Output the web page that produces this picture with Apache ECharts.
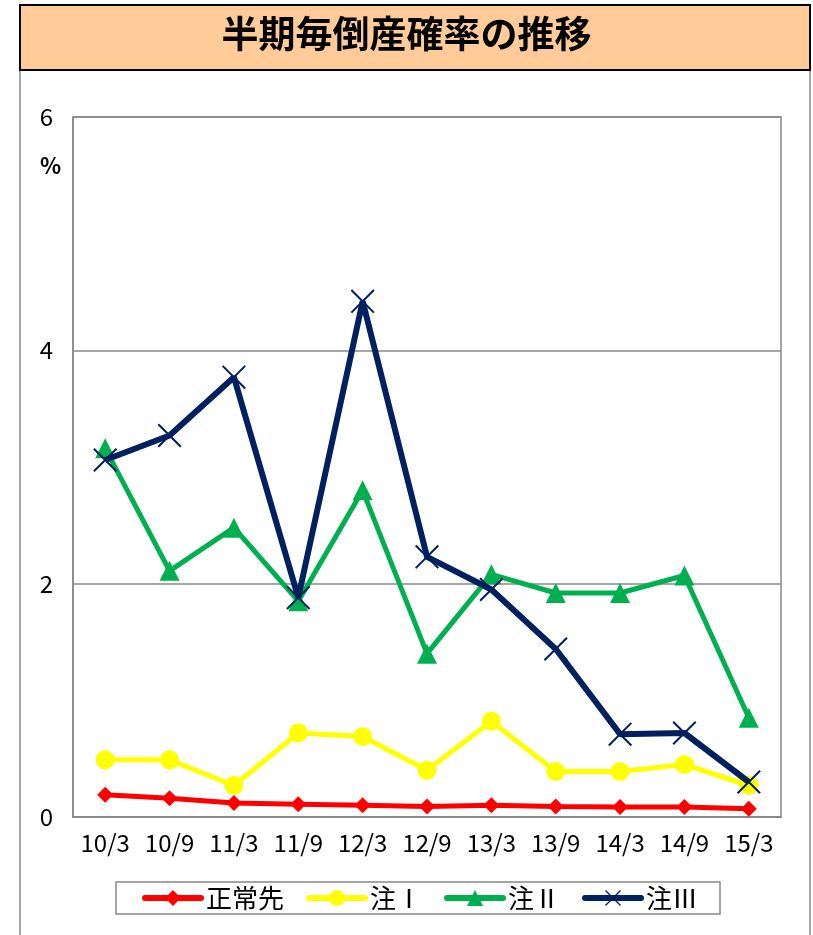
<!DOCTYPE html>
<html><head><meta charset="utf-8">
<script src="https://cdn.jsdelivr.net/npm/echarts@6/dist/echarts.min.js"></script>
<style>html,body{margin:0;padding:0;background:#fff}#c{width:813px;height:935px}</style>
</head><body><div id="c"></div>
<script>
const categories = ['10/3','10/9','11/3','11/9','12/3','12/9','13/3','13/9','14/3','14/9','15/3'];
const seriesNames = ['正常先','注Ⅰ','注Ⅱ','注Ⅲ'];
const seiJou = [0.19,0.16,0.12,0.11,0.10,0.09,0.10,0.09,0.085,0.085,0.07];
const chuu1 = [0.49,0.49,0.27,0.72,0.69,0.40,0.82,0.39,0.39,0.45,0.27];
const chuu2 = [3.16,2.11,2.48,1.85,2.80,1.40,2.08,1.92,1.92,2.07,0.85];
const chuu3 = [3.06,3.27,3.77,1.88,4.42,2.23,1.95,1.44,0.71,0.72,0.30];
const yTicks = [0,2,4,6];
const titleText = '半期毎倒産確率の推移';

const font = '"Noto Sans CJK JP", "Noto Sans", sans-serif';
const crossPath = 'path://M0,0.6L0.6,0L10,9.4L9.4,10Z M9.4,0L10,0.6L0.6,10L0,9.4Z';

const chart = echarts.init(document.getElementById('c'));
chart.setOption({
  animation: false,
  textStyle: {fontFamily: font},
  graphic: [
    {type:'rect', shape:{x:20,y:5,width:790,height:940}, style:{fill:'none', stroke:'#888', lineWidth:1.5}, z:-10},
    {type:'rect', shape:{x:20,y:5,width:790,height:65}, style:{fill:'#FFCC99', stroke:'#000', lineWidth:2}, z:-5},
    {type:'text', left:'center', top:15, style:{text:titleText, font:'bold 37px ' + font, fill:'#000'}},
    {type:'text', left:40, top:155, style:{text:'%', font:'bold 22px ' + font, fill:'#000'}}
  ],
  grid: {left:73, right:32, top:117, bottom:118, show:true, borderColor:'#888', borderWidth:1.5},
  legend: {
    data: seriesNames, top: 882, left: 116,
    borderColor:'#888', borderWidth:1.5, padding:[3,22,3,26], itemGap:22,
    itemWidth:56, itemHeight:20,
    lineStyle:{width:6, cap:'round'},
    textStyle:{fontSize:26, fontFamily:font, color:'#000'}
  },
  xAxis: {
    type:'category', data:categories, boundaryGap:true,
    axisLine:{lineStyle:{color:'#888', width:1.5}}, axisTick:{show:false},
    axisLabel:{fontSize:24, color:'#000', margin:14, fontFamily:font}
  },
  yAxis: {
    type:'value', min:0, max:6, interval:2,
    axisLine:{show:true, lineStyle:{color:'#888', width:1.5}}, axisTick:{show:false},
    splitLine:{lineStyle:{color:'#888', width:1.5}},
    axisLabel:{fontSize:24, color:'#000', margin:20, fontFamily:font,
      formatter: v => yTicks.includes(v) ? String(v) : ''}
  },
  series: [
    {name:seriesNames[0], type:'line', data:seiJou, symbol:'diamond', symbolSize:16,
     lineStyle:{color:'#FF0000', width:5}, itemStyle:{color:'#FF0000'}, z:2},
    {name:seriesNames[1], type:'line', data:chuu1, symbol:'circle', symbolSize:19,
     lineStyle:{color:'#FFFF00', width:5}, itemStyle:{color:'#FFFF00'}, z:3},
    {name:seriesNames[2], type:'line', data:chuu2, symbol:'triangle', symbolSize:20,
     lineStyle:{color:'#00B050', width:5}, itemStyle:{color:'#00B050'}, z:4},
    {name:seriesNames[3], type:'line', data:chuu3, symbol:crossPath, symbolSize:24,
     lineStyle:{color:'#002060', width:6}, itemStyle:{color:'#002060'}, z:5}
  ]
});
</script></body></html>
